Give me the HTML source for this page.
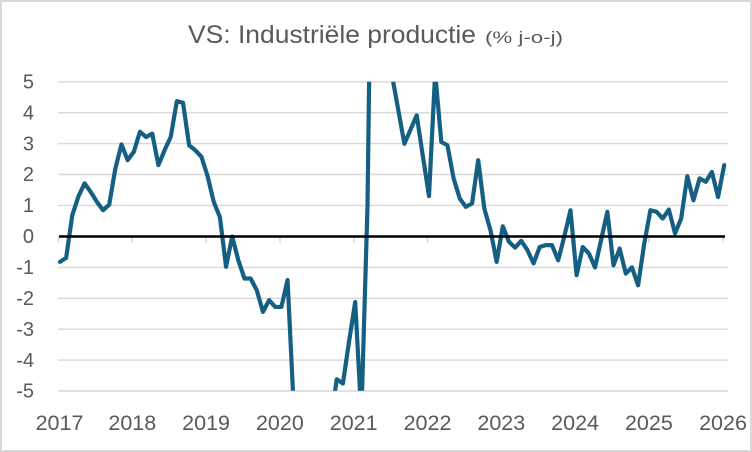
<!DOCTYPE html>
<html>
<head>
<meta charset="utf-8">
<style>
  html, body { margin: 0; padding: 0; background: #fff; width: 752px; height: 452px; overflow: hidden; }
  svg { display: block; overflow: hidden; }
  text { font-family: "Liberation Sans", Arial, sans-serif; fill: #595959; }
</style>
</head>
<body>
<svg width="752" height="452" viewBox="0 0 752 452" xmlns="http://www.w3.org/2000/svg">
  <rect x="0" y="0" width="752" height="452" fill="#ffffff"/>
  <rect x="1" y="1" width="750" height="450" fill="none" stroke="#d9d9d9" stroke-width="2"/>

  <defs>
    <clipPath id="plot">
      <rect x="50" y="81.8" width="690" height="309"/>
    </clipPath>
  </defs>

  <!-- Title -->
  <text x="188" y="43" font-size="25" textLength="288" lengthAdjust="spacingAndGlyphs">VS: Industriële productie</text>
  <text x="485" y="43" font-size="17" textLength="78" lengthAdjust="spacingAndGlyphs">(% j-o-j)</text>

  <!-- Gridlines -->
  <g stroke="#d9d9d9" stroke-width="1.4">
    <line x1="58" y1="81.8" x2="728" y2="81.8"/>
    <line x1="58" y1="112.7" x2="728" y2="112.7"/>
    <line x1="58" y1="143.6" x2="728" y2="143.6"/>
    <line x1="58" y1="174.5" x2="728" y2="174.5"/>
    <line x1="58" y1="205.4" x2="728" y2="205.4"/>
    <line x1="58" y1="267.4" x2="728" y2="267.4"/>
    <line x1="58" y1="298.3" x2="728" y2="298.3"/>
    <line x1="58" y1="329.2" x2="728" y2="329.2"/>
    <line x1="58" y1="360.1" x2="728" y2="360.1"/>
    <line x1="58" y1="391" x2="728" y2="391"/>
  </g>

  <!-- Ticks -->
  <g stroke="#d9d9d9" stroke-width="1.5">
    <line x1="58.5" y1="236.5" x2="58.5" y2="243"/>
    <line x1="132.3" y1="236.5" x2="132.3" y2="243"/>
    <line x1="206.1" y1="236.5" x2="206.1" y2="243"/>
    <line x1="279.9" y1="236.5" x2="279.9" y2="243"/>
    <line x1="353.7" y1="236.5" x2="353.7" y2="243"/>
    <line x1="427.5" y1="236.5" x2="427.5" y2="243"/>
    <line x1="501.3" y1="236.5" x2="501.3" y2="243"/>
    <line x1="575.1" y1="236.5" x2="575.1" y2="243"/>
    <line x1="648.9" y1="236.5" x2="648.9" y2="243"/>
    <line x1="722.7" y1="236.5" x2="722.7" y2="243"/>
  </g>

  <!-- Data series -->
  <g clip-path="url(#plot)">
    <polyline fill="none" stroke="#156082" stroke-width="4.2" stroke-linejoin="round" stroke-linecap="round"
      vector-effect="non-scaling-stroke"
      transform="translate(60 236.5) scale(6.15 -30.9)"
      points="0,-0.82 1,-0.69 2,0.69 3,1.3 4,1.72 5,1.44 6,1.12 7,0.85 8,1.03 9,2.2 10,2.98 11,2.47 12,2.74 13,3.39 14,3.22 15,3.33 16,2.31 17,2.79 18,3.22 19,4.38 20,4.33 21,2.95 22,2.79 23,2.58 24,1.95 25,1.12 26,0.63 27,-0.98 28,0.0 29,-0.77 30,-1.36 31,-1.36 32,-1.74 33,-2.44 34,-2.06 35,-2.28 36,-2.28 37,-1.41 38,-5.5 39,-6 40,-6 41,-6 42,-6 43,-6 44,-6 45,-4.62 46,-4.76 47,-3.4 48,-2.12 49,-5.8 50,1.0 50.3,5.6 53.9,5.6 54,5.2 55,4.1 56,3.0 57,3.46 58,3.92 59,2.6 60,1.31 61,5.3 62,3.06 63,2.95 64,1.88 65,1.23 66,0.96 67,1.07 68,2.47 69,0.9 70,0.2 71,-0.82 72,0.33 73,-0.17 74,-0.36 75,-0.14 76,-0.44 77,-0.87 78,-0.34 79,-0.28 80,-0.28 81,-0.77 82,0.0 83,0.85 84,-1.25 85,-0.34 86,-0.55 87,-1.0 88,-0.1 89,0.8 90,-0.93 91,-0.39 92,-1.2 93,-1.0 94,-1.58 95,-0.23 96,0.85 97,0.8 98,0.58 99,0.87 100,0.1 101,0.58 102,1.95 103,1.17 104,1.88 105,1.77 106,2.09 107,1.28 108,2.31"/>
  </g>

  <!-- Zero line -->
  <line x1="59" y1="236.5" x2="725" y2="236.5" stroke="#000000" stroke-width="2.6"/>

  <!-- Y axis labels -->
  <g font-size="20" text-anchor="end">
    <text x="34" y="88.5">5</text>
    <text x="34" y="119.4">4</text>
    <text x="34" y="150.3">3</text>
    <text x="34" y="181.2">2</text>
    <text x="34" y="212.1">1</text>
    <text x="34" y="243.2">0</text>
    <text x="34" y="274.1">-1</text>
    <text x="34" y="305">-2</text>
    <text x="34" y="335.9">-3</text>
    <text x="34" y="366.8">-4</text>
    <text x="34" y="397.7">-5</text>
  </g>

  <!-- X axis labels -->
  <g font-size="21.5" text-anchor="middle">
    <text x="59.5" y="430">2017</text>
    <text x="132.3" y="430">2018</text>
    <text x="206.1" y="430">2019</text>
    <text x="279.9" y="430">2020</text>
    <text x="353.7" y="430">2021</text>
    <text x="427.5" y="430">2022</text>
    <text x="501.3" y="430">2023</text>
    <text x="575.1" y="430">2024</text>
    <text x="648.9" y="430">2025</text>
    <text x="723" y="430">2026</text>
  </g>
</svg>
</body>
</html>
